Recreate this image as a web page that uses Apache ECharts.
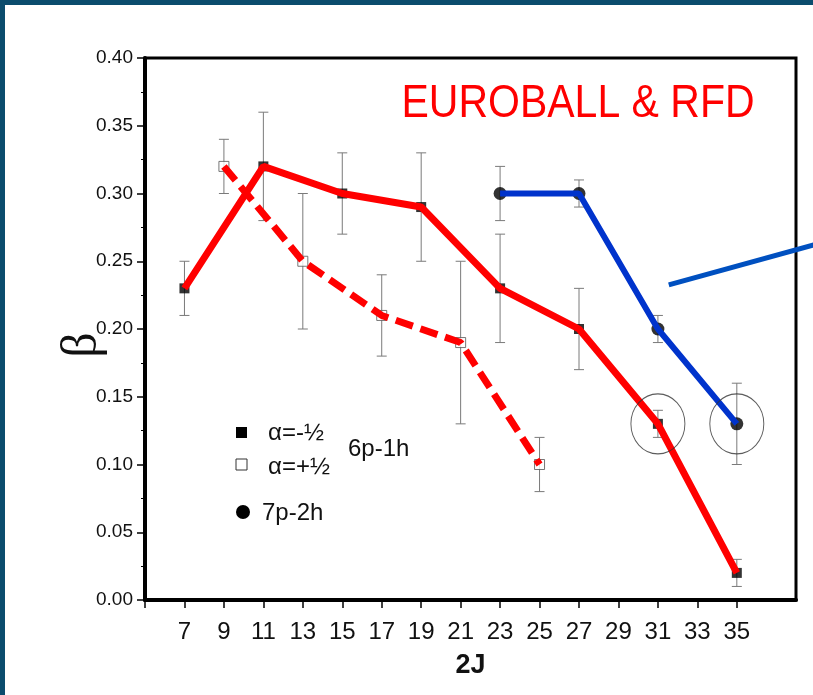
<!DOCTYPE html>
<html><head><meta charset="utf-8">
<script src="https://cdn.jsdelivr.net/npm/echarts@6/dist/echarts.min.js"></script>
<style>html,body{margin:0;padding:0;background:#fff}#c{width:813px;height:695px}</style>
</head><body><div id="c"></div>
<script>
// 6p-1h, alpha = -1/2 (filled squares, solid red line)
const xNeg = [7, 11, 15, 19, 23, 27, 31, 35];
const betaNeg = [0.23, 0.32, 0.30, 0.29, 0.23, 0.20, 0.13, 0.02];
const errNeg = [0.02, 0.04, 0.03, 0.04, 0.04, 0.03, 0.01, 0.01];
// 6p-1h, alpha = +1/2 (open squares, dashed red line)
const xPos = [9, 13, 17, 21, 25];
const betaPos = [0.32, 0.25, 0.21, 0.19, 0.10];
const errPos = [0.02, 0.05, 0.03, 0.06, 0.02];
// 7p-2h (filled circles, blue line)
const x7p = [23, 27, 31, 35];
const beta7p = [0.30, 0.30, 0.20, 0.13];
const err7p = [0.02, 0.01, 0.01, 0.03];
// highlighted points (circled)
const circledX = [31, 35];
const circledBeta = [0.13, 0.13];
// pointer line (start, end) in data units
const pointerX = [31.55, 38.9];
const pointerBeta = [0.2325, 0.262];
// axis ticks
const xTicks = [5, 7, 9, 11, 13, 15, 17, 19, 21, 23, 25, 27, 29, 31, 33, 35];
const xLabels = [7, 9, 11, 13, 15, 17, 19, 21, 23, 25, 27, 29, 31, 33, 35];
const titleText = 'EUROBALL & RFD';

const zip = (xs, ys) => xs.map((x, i) => [x, ys[i]]);
const errData = (xs, ys, es) => xs.map((x, i) => [x, ys[i] - es[i], ys[i] + es[i]]);

function errRender(params, api) {
  const x = api.value(0), lo = api.value(1), hi = api.value(2);
  const a = api.coord([x, hi]), b = api.coord([x, lo]);
  const w = 5, st = {stroke: '#7a7a7a', lineWidth: 1};
  return {type: 'group', children: [
    {type: 'line', shape: {x1: a[0], y1: a[1], x2: b[0], y2: b[1]}, style: st},
    {type: 'line', shape: {x1: a[0] - w, y1: a[1], x2: a[0] + w, y2: a[1]}, style: st},
    {type: 'line', shape: {x1: b[0] - w, y1: b[1], x2: b[0] + w, y2: b[1]}, style: st}
  ]};
}
function pointerRender(params, api) {
  if (params.dataIndex !== 0) return;
  const a = api.coord([pointerX[0], pointerBeta[0]]), b = api.coord([pointerX[1], pointerBeta[1]]);
  return {type: 'line', shape: {x1: a[0], y1: a[1], x2: b[0], y2: b[1]}, style: {stroke: '#0050c0', lineWidth: 5}};
}

const chart = echarts.init(document.getElementById('c'), null, {renderer: 'canvas'});
const allErr = errData(xNeg, betaNeg, errNeg).concat(errData(xPos, betaPos, errPos), errData(x7p, beta7p, err7p));

chart.setOption({
  backgroundColor: '#ffffff',
  animation: false,
  grid: {left: 145, top: 58, right: 17, bottom: 95, show: true, borderColor: '#000', borderWidth: 3, outerBoundsMode: 'none'},
  xAxis: {
    type: 'value', min: 5, max: 38,
    name: '2J', nameLocation: 'middle', nameGap: 52,
    nameTextStyle: {fontSize: 27, fontWeight: 'bold', color: '#111', fontFamily: 'Liberation Sans'},
    axisLine: {show: true, onZero: false, lineStyle: {color: '#000', width: 4}},
    axisTick: {show: true, customValues: xTicks, length: 8, lineStyle: {color: '#000', width: 1.5}},
    axisLabel: {customValues: xLabels, margin: 20, fontSize: 24, color: '#111', fontFamily: 'Liberation Sans Narrow, Liberation Sans'},
    splitLine: {show: false}
  },
  yAxis: {
    type: 'value', min: 0, max: 0.4, interval: 0.05,
    axisLine: {show: true, onZero: false, lineStyle: {color: '#000', width: 4}},
    axisTick: {show: true, length: 8, lineStyle: {color: '#000', width: 1.5}},
    minorTick: {show: true, splitNumber: 2, length: 4, lineStyle: {color: '#000', width: 1}},
    axisLabel: {margin: 12, fontSize: 19, color: '#111', fontFamily: 'Liberation Sans', formatter: v => v.toFixed(2)},
    splitLine: {show: false}
  },
  series: [
    {type: 'custom', name: 'err', renderItem: errRender, data: allErr, z: 1, encode: {x: 0, y: [1, 2]}},
    {type: 'scatter', name: 'α=-½', data: zip(xNeg, betaNeg), symbol: 'rect', symbolSize: 10, itemStyle: {color: '#000'}, z: 2},
    {type: 'scatter', name: 'α=+½', data: zip(xPos, betaPos), symbol: 'rect', symbolSize: 10, itemStyle: {color: '#fff', borderColor: '#555', borderWidth: 1}, z: 2},
    {type: 'scatter', name: '7p-2h', data: zip(x7p, beta7p), symbol: 'circle', symbolSize: 13, itemStyle: {color: '#000'}, z: 2},
    {type: 'line', data: zip(xNeg, betaNeg), showSymbol: false, lineStyle: {color: '#ff0000', width: 7}, z: 3},
    {type: 'line', data: zip(xPos, betaPos), showSymbol: false, lineStyle: {color: '#ff0000', width: 7, type: [18, 8]}, z: 3},
    {type: 'line', data: zip(x7p, beta7p), showSymbol: false, lineStyle: {color: '#0033cc', width: 6}, z: 3},
    {type: 'custom', data: zip(pointerX, pointerBeta), renderItem: pointerRender, clip: false, z: 3, silent: true},
    {type: 'scatter', data: zip(circledX, circledBeta), symbol: 'circle', symbolSize: [54, 60], itemStyle: {color: 'rgba(0,0,0,0)', borderColor: '#333', borderWidth: 1}, z: 4, silent: true}
  ],
  graphic: [
    {type: 'rect', shape: {x: 0, y: 0, width: 813, height: 5}, style: {fill: '#0b4c6d'}, z: 100},
    {type: 'rect', shape: {x: 0, y: 0, width: 5, height: 695}, style: {fill: '#0b4c6d'}, z: 100},
    {type: 'text', x: 578, y: 104, scaleY: 1.12, style: {text: titleText, fontSize: 41, fill: '#ff0000', fontFamily: 'Liberation Sans', align: 'center', verticalAlign: 'middle'}},
    {type: 'text', x: 83, y: 345, rotation: Math.PI / 2, style: {text: 'β', fontSize: 50, fill: '#111', fontFamily: 'Liberation Serif', align: 'center', verticalAlign: 'middle'}},
    {type: 'rect', shape: {x: 236, y: 427, width: 11, height: 11}, style: {fill: '#000'}},
    {type: 'text', x: 268, y: 433, style: {text: 'α=-½', fontSize: 24, fill: '#111', fontFamily: 'Liberation Sans', verticalAlign: 'middle'}},
    {type: 'rect', shape: {x: 236, y: 459, width: 11, height: 11}, style: {fill: '#fff', stroke: '#333', lineWidth: 1}},
    {type: 'text', x: 268, y: 467, style: {text: 'α=+½', fontSize: 24, fill: '#111', fontFamily: 'Liberation Sans', verticalAlign: 'middle'}},
    {type: 'text', x: 348, y: 449, style: {text: '6p-1h', fontSize: 24, fill: '#111', fontFamily: 'Liberation Sans', verticalAlign: 'middle'}},
    {type: 'circle', shape: {cx: 243, cy: 512, r: 7}, style: {fill: '#000'}},
    {type: 'text', x: 262, y: 513, style: {text: '7p-2h', fontSize: 24, fill: '#111', fontFamily: 'Liberation Sans', verticalAlign: 'middle'}}
  ]
});
</script></body></html>
